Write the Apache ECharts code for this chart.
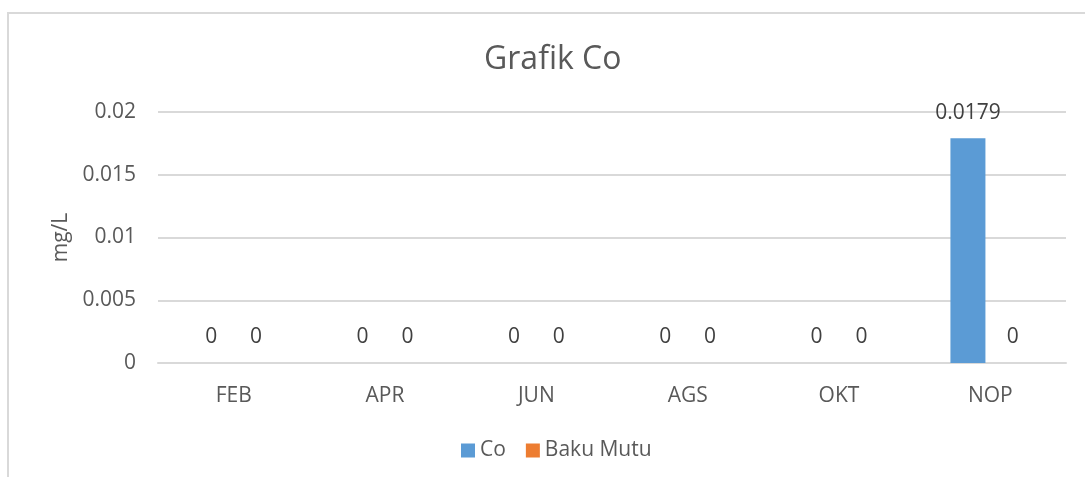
<!DOCTYPE html>
<html>
<head>
<meta charset="utf-8">
<script src="https://cdn.jsdelivr.net/npm/echarts@6/dist/echarts.min.js"></script>
<style>
  html, body { margin: 0; padding: 0; background: #fff; }
  #chart { width: 1085px; height: 477px; }
</style>
</head>
<body>
<div id="chart"></div>
<script>
var months = ['FEB', 'APR', 'JUN', 'AGS', 'OKT', 'NOP'];
var coValues = [0, 0, 0, 0, 0, 0.0179];
var bakuMutuValues = [0, 0, 0, 0, 0, 0];

var chart = echarts.init(document.getElementById('chart'));
var font = 'Open Sans, Noto Sans, sans-serif';

var option = {
    animation: false,
    textStyle: { fontFamily: font },
    // chart border
    graphic: [{
        type: 'rect',
        shape: { x: 8, y: 13, width: 1200, height: 600 },
        style: { fill: 'none', stroke: '#d9d9d9', lineWidth: 2 },
        silent: true
    }],
    title: {
        text: 'Grafik Co',
        left: 479,
        top: 39,
        textStyle: { fontSize: 32, fontWeight: 'normal', color: '#595959', fontFamily: font }
    },
    legend: {
        top: 435,
        left: 456,
        icon: 'rect',
        itemWidth: 14,
        itemHeight: 14,
        itemGap: 20,
        textStyle: { fontSize: 21, color: '#595959', fontFamily: font },
        data: ['Co', 'Baku Mutu']
    },
    grid: { left: 158, right: 19, top: 112, bottom: 114 },
    xAxis: {
        type: 'category',
        data: months,
        axisLine: { lineStyle: { color: '#d9d9d9', width: 2 } },
        axisTick: { show: false },
        axisLabel: { fontSize: 21, color: '#595959', margin: 23, fontFamily: font }
    },
    yAxis: {
        type: 'value',
        min: 0,
        max: 0.02,
        interval: 0.005,
        name: 'mg/L',
        nameLocation: 'middle',
        nameRotate: 90,
        nameGap: 84,
        nameTextStyle: { fontSize: 21, color: '#595959', fontFamily: font },
        axisLine: { show: false },
        axisTick: { show: false },
        splitLine: { lineStyle: { color: '#d9d9d9', width: 2 } },
        axisLabel: { fontSize: 21, color: '#595959', margin: 22, fontFamily: font }
    },
    series: [{
        name: 'Co',
        type: 'bar',
        data: coValues,
        barWidth: 35,
        barGap: '28%',
        itemStyle: { color: '#5b9bd5' },
        label: { show: true, position: 'top', distance: 15, fontSize: 21, color: '#404040', fontFamily: font }
    }, {
        name: 'Baku Mutu',
        type: 'bar',
        data: bakuMutuValues,
        barWidth: 35,
        itemStyle: { color: '#ed7d31' },
        label: { show: true, position: 'top', distance: 15, fontSize: 21, color: '#404040', fontFamily: font }
    }]
};

chart.setOption(option);
</script>
</body>
</html>
